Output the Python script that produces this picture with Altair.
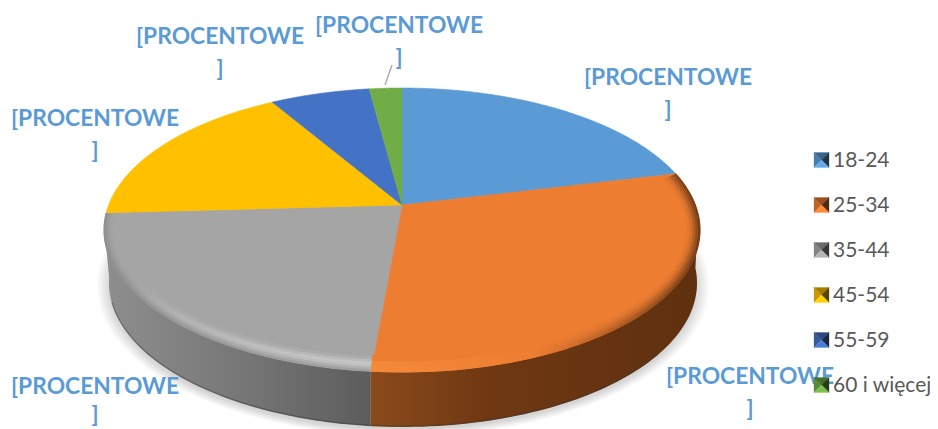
import math
import altair as alt
import pandas as pd

# ---- data ----
categories = ["18-24", "25-34", "35-44", "45-54", "55-59", "60 i więcej"]
shares = [21.2, 30.2, 22.7, 17.4, 6.4, 2.1]
colors = ["#5b9bd5", "#ed7d31", "#a5a5a5", "#ffc000", "#4472c4", "#70ad47"]
label_text = "[PROCENTOWE"
label_close = "]"

# ---- layout (reference pixel space) ----
CX, CY, A, B = 402.0, 230.0, 298.0, 142.0      # top face ellipse
APEX_Y = 205.0                                  # where the slices meet
BX, BY, BA, BB = 403.0, 283.0, 294.0, 144.0     # bottom ellipse of the wall
C = (APEX_Y - CY) / B
label_pos = [(668, 78), (750, 377), (95, 387), (95, 119), (220, 37), (399, 26)]
close_gap = [32, 32, 28, 32, 32, 32]
legend_ys = [161, 206, 251, 296, 341, 386]
marker_ys = [160, 205, 250, 295, 340, 385]
X_SCALE = alt.Scale(domain=[8, 930], range=[0, 922], nice=False, zero=False)
Y_SCALE = alt.Scale(domain=[8, 429], range=[0, 421], nice=False, zero=False)
X = lambda: alt.X("x:Q", scale=X_SCALE, axis=None)
Y = lambda: alt.Y("y:Q", scale=Y_SCALE, axis=None)


def rim(theta, ax=A, bx=B):
    """Point of the rim for a true pie angle (clockwise from the top), seen in perspective."""
    u, v = math.sin(theta), -math.cos(theta)
    d = 1 + C * v
    return CX + ax * u * math.sqrt(1 - C * C) / d, CY + bx * (v + C) / d


def screen_t(theta):
    x, y = rim(theta)
    return math.atan2((x - CX) / A, -(y - CY) / B)


def arc(t1, t2, cx=CX, cy=CY, a=A, b=B, n=70):
    return [(cx + a * math.sin(t1 + (t2 - t1) * i / n),
             cy - b * math.cos(t1 + (t2 - t1) * i / n)) for i in range(n + 1)]


def shape(points, **mark):
    df = pd.DataFrame(points, columns=["x", "y"])
    df["i"] = range(len(df))
    return alt.Chart(df).mark_line(interpolate="linear", clip=False, **mark).encode(
        x=X(), y=Y(), order=alt.Order("i:Q"))


def poly(points, fill, stroke=None, sw=0.6, opacity=1):
    pts = list(points) + [points[0]]
    kw = dict(fill=fill, strokeWidth=sw, opacity=opacity, fillOpacity=1)
    kw["stroke"] = stroke if stroke else "transparent"
    return shape(pts, **kw)


def grad(stops, vertical=False):
    return alt.Gradient(gradient="linear", x1=0, x2=0 if vertical else 1, y1=0, y2=1 if vertical else 0,
                        stops=[alt.GradientStop(offset=o, color=c) for o, c in stops])


def shade(color, f):
    r, g, b = [int(color[i:i + 2], 16) for i in (1, 3, 5)]
    m = lambda v: max(0, min(255, int(v * f)))
    return f"#{m(r):02x}{m(g):02x}{m(b):02x}"


# cumulative angles of the slice boundaries
bounds = [0.0]
for s in shares:
    bounds.append(bounds[-1] + s / sum(shares) * 2 * math.pi)

layers = []

# soft shadow
for k in range(7):
    layers.append(poly(arc(0, 2 * math.pi, BX, BY + 3, BA + 12 - 2 * k, BB + 6 - k),
                       "#000000", opacity=0.018))

# side wall
tC = screen_t(bounds[2]) % (2 * math.pi)
xC = rim(bounds[2])[0]
tCb = math.pi + math.asin((BX - xC) / BA)


def wall(t1, t2, tb1, tb2):
    return arc(t1, t2) + arc(tb2, tb1, BX, BY, BA, BB)


layers.append(poly(wall(tC, math.radians(272), tCb, math.radians(272)),
                   grad([(0, "#8e8e8e"), (0.55, "#757575"), (1, "#5c5c5c")])))
layers.append(poly(wall(math.radians(84), tC, math.radians(84), tCb),
                   grad([(0, "#8b4a1b"), (0.35, "#6f3813"), (1, "#5f300f")])))

# dark lower edge of the wall
layers.append(shape(arc(math.radians(120), math.radians(262), BX, BY - 1, BA, BB),
                    stroke="#3c3c3c", strokeWidth=1.2, opacity=0.45))

# top face slices
apex = (CX, APEX_Y)
for i, col in enumerate(colors):
    t1, t2 = screen_t(bounds[i]), screen_t(bounds[i + 1])
    while t2 < t1:
        t2 += 2 * math.pi
    layers.append(poly([apex] + arc(t1, t2), col, stroke=col))

# bevel of the rim: grey slice, highlight strongest at the front
t_gray = (tC, screen_t(bounds[3]) % (2 * math.pi))
for inset, top, bottom, w in [(1, "#909090", "#a0a0a0", 3), (3.5, "#989898", "#b0b0b0", 3),
                              (6, "#9f9f9f", "#c0c0c0", 3), (8.5, "#a3a3a3", "#c6c6c6", 3),
                              (11, "#a5a5a5", "#bababa", 3), (13.5, "#a5a5a5", "#acacac", 3)]:
    layers.append(shape(arc(t_gray[0], t_gray[1], CX, CY, A - inset, B - inset),
                        stroke=grad([(0, top), (0.45, top), (1, bottom)], vertical=True), strokeWidth=w))

# bevel of the rim: orange slice, fading to brown on the right
t_or = (screen_t(bounds[1]), tC)
for inset, f, w in [(1, 0.5, 3), (3.5, 0.62, 3), (6, 0.75, 3), (9, 0.88, 3), (12, 0.96, 3), (15, 1.0, 3)]:
    layers.append(shape(arc(t_or[0], t_or[1], CX, CY, A - inset, B - inset),
                        stroke=grad([(0, "#f58a3c" if inset < 11 else colors[1]),
                                     (0.5, colors[1]),
                                     (1, shade(colors[1], f))]),
                        strokeWidth=w))

# leader line
layers.append(shape([(385, 85), (392, 65)], stroke="#a6a6a6", strokeWidth=1.3))

# data labels
label_df = pd.DataFrame({
    "x": [p[0] for p in label_pos] * 2,
    "y": [p[1] for p in label_pos] + [p[1] + g for p, g in zip(label_pos, close_gap)],
    "t": [label_text] * 6 + [label_close] * 6,
})
layers.append(alt.Chart(label_df).mark_text(
    font="Lato", fontWeight="bold", fontSize=22.8, color="#5b9bd5", align="center", baseline="middle"
).encode(x=X(), y=Y(), text="t:N"))

# legend
S = 7.5
for col, ly in zip(colors, marker_ys):
    cx, cy = 821.5, ly
    nw, ne, se, sw_, c = (cx - S, cy - S), (cx + S, cy - S), (cx + S, cy + S), (cx - S, cy + S), (cx, cy)
    layers.append(poly([nw, sw_, c], shade(col, 0.8), stroke=shade(col, 0.8), sw=0.3))
    layers.append(poly([nw, ne, c], shade(col, 0.65), stroke=shade(col, 0.65), sw=0.3))
    layers.append(poly([ne, se, c], shade(col, 0.35), stroke=shade(col, 0.35), sw=0.3))
    layers.append(poly([sw_, se, c], shade(col, 1.1), stroke=shade(col, 1.1), sw=0.3))

legend_df = pd.DataFrame({"x": [833] * 6, "y": legend_ys, "t": categories})
layers.append(alt.Chart(legend_df).mark_text(
    font="Lato", fontSize=21, color="#595959", align="left", baseline="middle"
).encode(x=X(), y=Y(), text="t:N"))

chart = alt.layer(*layers).properties(
    width=922, height=421, padding=0, autosize=alt.AutoSizeParams(type="none"),
    background="white",
).configure_view(stroke=None)

chart.save("out.html", embed_options={"renderer": "svg", "actions": False})
